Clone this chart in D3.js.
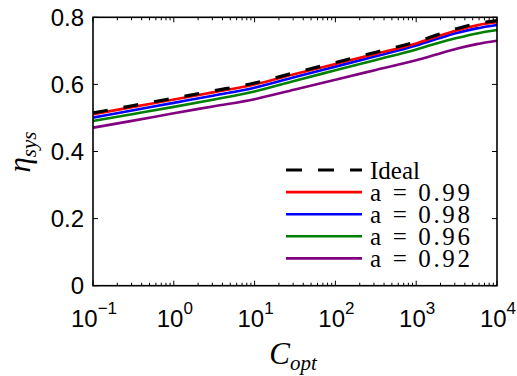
<!DOCTYPE html>
<html><head><meta charset="utf-8">
<script src="https://cdn.jsdelivr.net/npm/d3@7"></script>
<style>body{margin:0;background:#fff}</style>
</head><body><svg id="c" width="517" height="376"></svg>
<script>
// Optimal concentration ratio samples (log-spaced)
const cOpt = [0.1, 0.316, 1, 3.16, 10, 31.6, 100, 316, 1000, 1778, 3162, 5623, 10000];
// System efficiency for each case
const etaIdeal = [0.515, 0.537, 0.559, 0.581, 0.604, 0.635, 0.665, 0.696, 0.727, 0.747, 0.766, 0.781, 0.790];
const eta099   = [0.511, 0.533, 0.555, 0.577, 0.600, 0.631, 0.661, 0.691, 0.722, 0.742, 0.761, 0.776, 0.785];
const eta098   = [0.501, 0.523, 0.545, 0.567, 0.590, 0.622, 0.653, 0.684, 0.716, 0.735, 0.753, 0.767, 0.777];
const eta096   = [0.491, 0.512, 0.533, 0.555, 0.579, 0.611, 0.642, 0.673, 0.704, 0.722, 0.738, 0.752, 0.762];
const eta092   = [0.471, 0.492, 0.514, 0.535, 0.556, 0.585, 0.614, 0.643, 0.672, 0.689, 0.706, 0.720, 0.730];
const seriesLabels = ["Ideal", "a = 0.99", "a = 0.98", "a = 0.96", "a = 0.92"];
const seriesValues = [etaIdeal, eta099, eta098, eta096, eta092];
const seriesColors = ["#000000", "#ff0000", "#0000ff", "#008000", "#800080"];
const yTickValues = [0, 0.2, 0.4, 0.6, 0.8];
const yTickLabels = ["0", "0.2", "0.4", "0.6", "0.8"];
const xTickExponents = ["\u22121", "0", "1", "2", "3", "4"];

const svg = d3.select("#c");
const L = 93, R = 497, T = 17.3, B = 285.7;
const x = d3.scaleLog().domain([0.1, 1e4]).range([L, R]);
const y = d3.scaleLinear().domain([0, 0.8]).range([B, T]);

const majorX = x.ticks().filter(v => Math.abs(Math.log10(v) - Math.round(Math.log10(v))) < 1e-9);
const minorX = x.ticks().filter(v => !majorX.includes(v));

const g = svg.append("g");
// inward ticks on all four sides
const tick = (x1, y1, x2, y2) => g.append("line").attr("x1", x1).attr("y1", y1).attr("x2", x2).attr("y2", y2)
  .attr("stroke", "#000").attr("stroke-width", 1);
majorX.forEach(v => { tick(x(v), B, x(v), B - 5); tick(x(v), T, x(v), T + 5); });
minorX.forEach(v => { tick(x(v), B, x(v), B - 3); tick(x(v), T, x(v), T + 3); });
yTickValues.forEach(v => { tick(L, y(v), L + 5, y(v)); tick(R, y(v), R - 5, y(v)); });

// curves
const line = d3.line().x((d, i) => x(cOpt[i])).y(d => y(d)).curve(d3.curveMonotoneX);
const order = [4, 3, 2, 1, 0];
order.forEach(k => {
  svg.append("path").attr("d", line(seriesValues[k])).attr("fill", "none")
    .attr("stroke", seriesColors[k])
    .attr("stroke-width", k === 0 ? 3.2 : 2.6)
    .attr("stroke-dasharray", k === 0 ? "15,16" : null);
});

// frame
svg.append("rect").attr("x", L).attr("y", T).attr("width", R - L).attr("height", B - T)
  .attr("fill", "none").attr("stroke", "#000").attr("stroke-width", 1.6);

// y tick labels
svg.append("g").selectAll("text").data(yTickValues).join("text")
  .attr("x", L - 9).attr("y", d => y(d) + 8.5).attr("text-anchor", "end")
  .attr("font-family", "Liberation Sans, Arial, sans-serif").attr("font-size", 24)
  .text((d, i) => yTickLabels[i]);

// x tick labels: 10 with superscript exponent
const xl = svg.append("g").selectAll("text").data(majorX).join("text")
  .attr("y", 327).attr("font-family", "Liberation Sans, Arial, sans-serif").attr("font-size", 24)
  .attr("text-anchor", "middle");
xl.each(function (d, i) {
  const t = d3.select(this).attr("x", x(d) + 1);
  t.append("tspan").text("10");
  t.append("tspan").attr("dy", -13).attr("font-size", 17).text(xTickExponents[i]);
});

// axis titles
const xt = svg.append("text").attr("x", (L + R) / 2 - 2).attr("y", 364)
  .attr("text-anchor", "middle").attr("font-family", "Liberation Serif, Times New Roman, serif")
  .attr("font-style", "italic").attr("font-size", 31);
xt.append("tspan").text("C");
xt.append("tspan").attr("dy", 6).attr("font-size", 21).text("opt");

const yt = svg.append("text").attr("transform", "translate(30,152) rotate(-90)")
  .attr("text-anchor", "middle").attr("font-family", "Liberation Serif, Times New Roman, serif")
  .attr("font-style", "italic").attr("font-size", 31);
yt.append("tspan").text("\u03b7");
yt.append("tspan").attr("dy", 6).attr("font-size", 21).text("sys");

// legend
const lg = svg.append("g");
seriesLabels.forEach((lab, k) => {
  const ly = 170 + k * 22.1;
  lg.append("line").attr("x1", 286).attr("x2", 362).attr("y1", ly).attr("y2", ly)
    .attr("stroke", seriesColors[k]).attr("stroke-width", k === 0 ? 3.2 : 2.6)
    .attr("stroke-dasharray", k === 0 ? "16,16" : null);
  const t = lg.append("text").attr("x", 370).attr("y", ly + 8.5)
    .attr("font-family", "Liberation Serif, Times New Roman, serif").attr("font-size", 25)
    .text(lab);
  if (k > 0) t.attr("textLength", 100).attr("lengthAdjust", "spacing");
});
</script></body></html>
